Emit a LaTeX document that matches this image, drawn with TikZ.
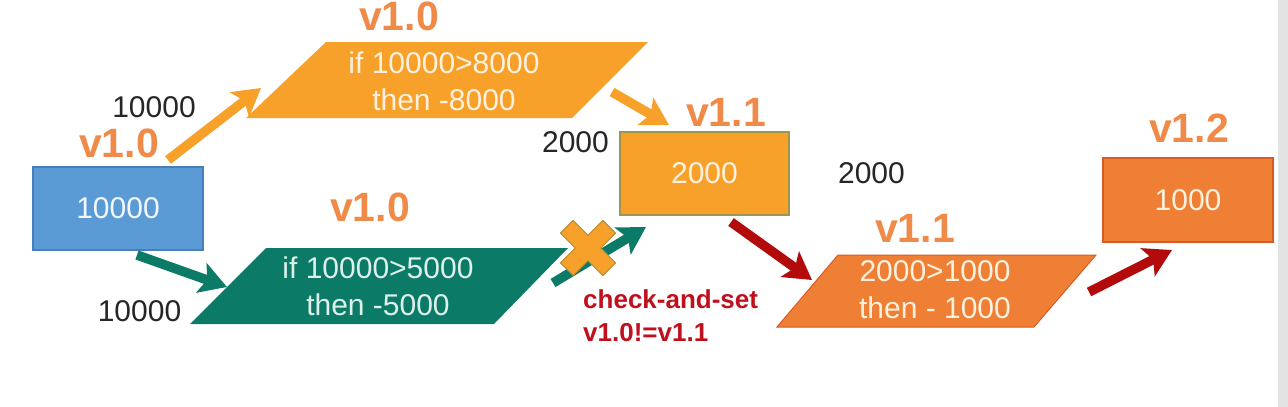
\documentclass[tikz,border=0pt]{standalone}
\usepackage{fontspec}
\setmainfont{Liberation Sans}
\usetikzlibrary{arrows.meta}
\definecolor{cblue}{HTML}{5B9BD5}
\definecolor{cblueb}{HTML}{4A7EBB}
\definecolor{cyel}{HTML}{F7A12B}
\definecolor{cyelb}{HTML}{9C9650}
\definecolor{cteal}{HTML}{0B7B68}
\definecolor{corg}{HTML}{EE7F34}
\definecolor{corgb}{HTML}{D85A26}
\definecolor{cred}{HTML}{B30B0B}
\definecolor{ctxtred}{HTML}{C0101E}
\definecolor{cver}{HTML}{F08A48}
\definecolor{ctxt}{HTML}{FFF1DE}
\definecolor{ctealtxt}{HTML}{DDF0EA}
\definecolor{cxb}{HTML}{B38A33}
\begin{document}
\begin{tikzpicture}[x=1pt,y=-1pt,
  vbox/.style={draw, line width=1.3pt, minimum width=#1, minimum height=83pt, inner sep=0pt,
    text=ctxt, font=\fontsize{30}{36}\selectfont},
  numlbl/.style={inner sep=0pt, text=black!85, font=\fontsize{30}{36}\selectfont},
  verlbl/.style={inner sep=0pt, text=cver, font=\fontsize{41}{44}\selectfont\bfseries},
  ptxt/.style={inner sep=0pt, align=center, font=\fontsize{30}{37}\selectfont},
  flow/.style={line width=9.5pt, -{Stealth[length=27pt,width=31pt,inset=6pt]}}
]
\useasboundingbox (0,0) rectangle (1288,407);
\fill[gray!22] (1278,0) rectangle (1288,407);

% parallelograms
\fill[cyel] (326,42) -- (648,42) -- (572,118) -- (246,118) -- cycle;
\fill[cteal] (266,248) -- (568,248) -- (494,324) -- (190,324) -- cycle;
\filldraw[fill=corg, draw=corgb, line width=1pt] (838,255) -- (1096,255) -- (1034,327) -- (777,327) -- cycle;

% boxes
\node[vbox=170pt, fill=cblue, draw=cblueb, text=white!92!cblue] (b1) at (118,208.5) {10000};
\node[vbox=169pt, fill=cyel, draw=cyelb] (b2) at (704.5,173.5) {2000};
\node[vbox=170pt, fill=corg, draw=corgb, minimum height=84pt] (b3) at (1188,200) {1000};

% parallelogram texts
\node[ptxt, text=ctxt] (p1) at (444,81) {if 10000>8000\\then -8000};
\node[ptxt, text=ctealtxt] (p2) at (378,286) {if 10000>5000\\then -5000};
\node[ptxt, text=ctxt] (p3) at (935,290) {2000>1000\\then - 1000};

% version labels
\node[verlbl] (v1) at (399,16) {v1.0};
\node[verlbl] (v2) at (119,143) {v1.0};
\node[verlbl] (v3) at (370,207) {v1.0};
\node[verlbl] (v4) at (726,112) {v1.1};
\node[verlbl] (v5) at (915,228) {v1.1};
\node[verlbl] (v6) at (1189,128) {v1.2};

% value labels
\node[numlbl] (n1) at (154,107.5) {10000};
\node[numlbl] (n2) at (139.5,311) {10000};
\node[numlbl] (n3) at (575.5,142.5) {2000};
\node[numlbl] (n4) at (871.5,173.5) {2000};

% check-and-set
\node[anchor=west, inner sep=0pt, align=left, text=ctxtred,
  font=\fontsize{26}{33}\selectfont\bfseries] (cas) at (583,315.5) {check-and-set\\v1.0!=v1.1};

% arrow end points
\coordinate (a1s) at (168,160); \coordinate (a1e) at (261,88);
\coordinate (a2s) at (612,92);  \coordinate (a2e) at (669,125);
\coordinate (a3s) at (137,255); \coordinate (a3e) at (227,287);
\coordinate (a4s) at (553,283); \coordinate (a4e) at (646,227);
\coordinate (a5s) at (731,222); \coordinate (a5e) at (812,280);
\coordinate (a6s) at (1089,292); \coordinate (a6e) at (1172,250);

\draw[flow, cyel] (a1s) -- (a1e);
\draw[flow, cyel] (a2s) -- (a2e);
\draw[flow, cteal] (a3s) -- (a3e);
\draw[flow, cteal] (a4s) -- (a4e);
\draw[flow, cred] (a5s) -- (a5e);
\draw[flow, cred] (a6s) -- (a6e);

% cross
\coordinate (xc) at (588,248);
\filldraw[fill=cyel, draw=cxb, line width=1pt, shift={(xc)}, rotate=45]
  (-9,-30) -- (9,-30) -- (9,-9) -- (30,-9) -- (30,9) -- (9,9) -- (9,30) -- (-9,30)
  -- (-9,9) -- (-30,9) -- (-30,-9) -- (-9,-9) -- cycle;
\end{tikzpicture}
\end{document}
